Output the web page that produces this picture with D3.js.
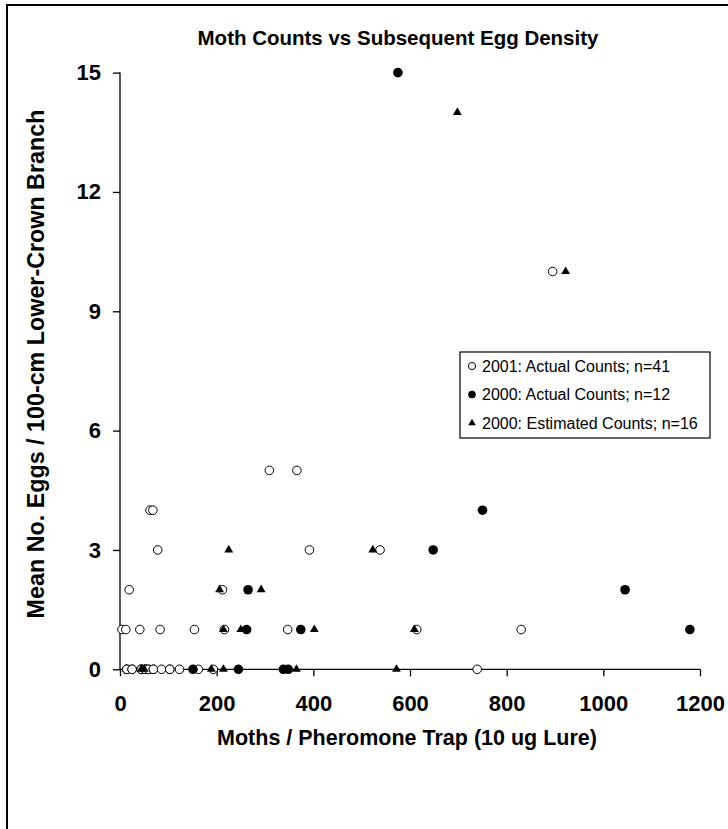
<!DOCTYPE html>
<html>
<head>
<meta charset="utf-8">
<script src="https://cdn.jsdelivr.net/npm/d3@7"></script>
<style>
  html, body { margin: 0; padding: 0; background: #fff; }
  svg { display: block; }
  text { font-family: "Liberation Sans", Arial, sans-serif; fill: #000; }
</style>
</head>
<body>
<svg id="chart" width="728" height="829"></svg>
<script>
// Moth trap catches vs egg density on lower-crown branches
const xTicks = [0, 200, 400, 600, 800, 1000, 1200];
const yTicks = [0, 3, 6, 9, 12, 15];

// 2001: actual counts (n=41)
const open2001X = [14, 14, 14, 25, 25, 44, 44, 44, 52, 52, 52, 59, 59, 69, 69, 86, 103, 103, 123, 162, 193, 739,
                   4, 12, 41, 83, 154, 216, 347, 614, 830,
                   19, 212,
                   78, 392, 538,
                   62, 68,
                   309, 366,
                   895];
const open2001Y = [0, 0, 0, 0, 0, 0, 0, 0, 0, 0, 0, 0, 0, 0, 0, 0, 0, 0, 0, 0, 0, 0,
                   1, 1, 1, 1, 1, 1, 1, 1, 1,
                   2, 2,
                   3, 3, 3,
                   4, 4,
                   5, 5,
                   10];

// 2000: actual counts (n=12)
const actual2000X = [575, 750, 648, 1045, 265, 1179, 262, 374, 151, 245, 338, 348];
const actual2000Y = [15, 4, 3, 2, 2, 1, 1, 1, 0, 0, 0, 0];

// 2000: estimated counts (n=16)
const est2000X = [698, 922, 225, 523, 206, 292, 214, 250, 402, 609, 44, 50, 189, 214, 365, 572];
const est2000Y = [14, 10, 3, 3, 2, 2, 1, 1, 1, 1, 0, 0, 0, 0, 0, 0];

const legendLabels = [
  "2001: Actual Counts; n=41",
  "2000: Actual Counts; n=12",
  "2000: Estimated Counts; n=16"
];

const svg = d3.select("#chart");

// outer chart frame
svg.append("rect")
  .attr("x", 7).attr("y", 5)
  .attr("width", 760).attr("height", 860)
  .attr("fill", "none").attr("stroke", "#000").attr("stroke-width", 2);

const x = d3.scaleLinear().domain([0, 1200]).range([120, 700]);
const y = d3.scaleLinear().domain([0, 15]).range([669.3, 72.6]);

// axes
const xAxis = d3.axisBottom(x).tickValues(xTicks).tickSize(7).tickPadding(6).tickFormat(d3.format("d"));
const yAxis = d3.axisLeft(y).tickValues(yTicks).tickSize(7).tickPadding(12).tickFormat(d3.format("d"));

const gx = svg.append("g").attr("transform", `translate(0,${y(0)})`).call(xAxis);
const gy = svg.append("g").attr("transform", `translate(${x(0)},0)`).call(yAxis);

[gx, gy].forEach(g => {
  g.select(".domain").attr("stroke", "#000").attr("stroke-width", 1.3);
  g.selectAll(".tick line").attr("stroke", "#000").attr("stroke-width", 1.3);
  g.selectAll(".tick text")
    .attr("font-family", "'Liberation Sans', Arial, sans-serif")
    .attr("font-weight", "bold").attr("font-size", 22).attr("fill", "#000");
});
gx.select(".domain").attr("d", `M${x(0)},0H${x(1200)}`);
gy.select(".domain").attr("d", `M0,${y(15)}V${y(0)}`);
gx.selectAll(".tick text").attr("y", 42).attr("dy", null);

// titles
svg.append("text")
  .attr("x", 398).attr("y", 45)
  .attr("text-anchor", "middle")
  .attr("font-weight", "bold").attr("font-size", 20.5)
  .text("Moth Counts vs Subsequent Egg Density");

svg.append("text")
  .attr("x", 407).attr("y", 745)
  .attr("text-anchor", "middle")
  .attr("font-weight", "bold").attr("font-size", 21.5)
  .text("Moths / Pheromone Trap (10 ug Lure)");

svg.append("text")
  .attr("transform", "translate(44,364) rotate(-90)")
  .attr("text-anchor", "middle")
  .attr("font-weight", "bold").attr("font-size", 23.3)
  .text("Mean No. Eggs / 100-cm Lower-Crown Branch");

// markers
const tri = d3.symbol().type(d3.symbolTriangle).size(34);

const plot = svg.append("g");

plot.selectAll("circle.open")
  .data(d3.range(open2001X.length))
  .join("circle")
  .attr("class", "open")
  .attr("cx", i => x(open2001X[i]))
  .attr("cy", i => y(open2001Y[i]))
  .attr("r", 4.3)
  .attr("fill", "#fff").attr("stroke", "#000").attr("stroke-width", 1);

plot.selectAll("circle.filled")
  .data(d3.range(actual2000X.length))
  .join("circle")
  .attr("class", "filled")
  .attr("cx", i => x(actual2000X[i]))
  .attr("cy", i => y(actual2000Y[i]))
  .attr("r", 4.8)
  .attr("fill", "#000");

plot.selectAll("path.tri")
  .data(d3.range(est2000X.length))
  .join("path")
  .attr("class", "tri")
  .attr("d", tri)
  .attr("transform", i => `translate(${x(est2000X[i])},${y(est2000Y[i])})`)
  .attr("fill", "#000");

// legend
const lg = svg.append("g").attr("transform", "translate(460,352)");
lg.append("rect")
  .attr("x", 0).attr("y", 0).attr("width", 250).attr("height", 86)
  .attr("fill", "#fff").attr("stroke", "#000").attr("stroke-width", 1.2);

legendLabels.forEach((t, i) => {
  const cy = 14 + i * 28.5;
  if (i === 0) {
    lg.append("circle").attr("cx", 12).attr("cy", cy).attr("r", 3.6)
      .attr("fill", "#fff").attr("stroke", "#000").attr("stroke-width", 1);
  } else if (i === 1) {
    lg.append("circle").attr("cx", 12).attr("cy", cy).attr("r", 3.8).attr("fill", "#000");
  } else {
    lg.append("path").attr("d", d3.symbol().type(d3.symbolTriangle).size(24))
      .attr("transform", `translate(12,${cy})`).attr("fill", "#000");
  }
  lg.append("text")
    .attr("x", 22).attr("y", cy).attr("dy", "0.35em")
    .attr("font-size", 16)
    .text(t);
});
</script>
</body>
</html>
